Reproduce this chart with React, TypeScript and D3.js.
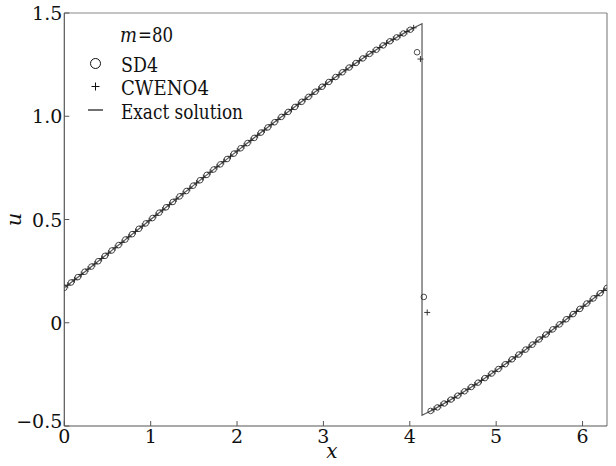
import React from "react";
import * as d3 from "d3";

const W = 616;
const H = 466;
const PLOT = { left: 64.3, right: 607, top: 13, bottom: 426 };

const xTicks = [0, 1, 2, 3, 4, 5, 6];
const xTickLabels = ["0", "1", "2", "3", "4", "5", "6"];
const yTicks = [-0.5, 0, 0.5, 1.0, 1.5];
const yTickLabels = ["\u22120.5", "0", "0.5", "1.0", "1.5"];

const cells = 80;

// SD4 values at x = i*h, i = 0..80
const sd4U = [
  0.169, 0.195, 0.221, 0.247, 0.272, 0.298, 0.324, 0.35, 0.376, 0.403,
  0.429, 0.455, 0.481, 0.507, 0.533, 0.559, 0.585, 0.612, 0.638, 0.664,
  0.69, 0.716, 0.742, 0.767, 0.793, 0.819, 0.845, 0.87, 0.895, 0.921,
  0.946, 0.971, 0.997, 1.021, 1.045, 1.07, 1.094, 1.119, 1.143, 1.166,
  1.19, 1.213, 1.236, 1.258, 1.28, 1.302, 1.322, 1.343, 1.363, 1.382,
  1.401, 1.419, 1.31, 0.125, -0.427, -0.41, -0.391, -0.372, -0.353, -0.332,
  -0.311, -0.29, -0.268, -0.246, -0.224, -0.201, -0.177, -0.154, -0.13, -0.106,
  -0.081, -0.057, -0.032, -0.008, 0.017, 0.042, 0.067, 0.093, 0.118, 0.143,
  0.169,
];

// CWENO4 values at x = (j+0.5)*h, j = 0..79
const cweno4U = [
  0.182, 0.208, 0.234, 0.26, 0.285, 0.311, 0.337, 0.363, 0.389, 0.416,
  0.442, 0.468, 0.494, 0.52, 0.546, 0.572, 0.599, 0.625, 0.651, 0.677,
  0.703, 0.729, 0.755, 0.78, 0.806, 0.832, 0.857, 0.883, 0.908, 0.933,
  0.959, 0.984, 1.009, 1.033, 1.058, 1.082, 1.106, 1.131, 1.155, 1.178,
  1.201, 1.225, 1.247, 1.269, 1.291, 1.312, 1.333, 1.354, 1.373, 1.392,
  1.41, 1.428, 1.277, 0.05, -0.419, -0.4, -0.382, -0.363, -0.342, -0.322,
  -0.301, -0.279, -0.257, -0.235, -0.212, -0.189, -0.166, -0.142, -0.118, -0.093,
  -0.069, -0.045, -0.02, 0.004, 0.029, 0.055, 0.08, 0.105, 0.131, 0.156,
];

// Exact solution (left branch, shock, right branch)
const exactX = [
  0, 0.25, 0.5, 1, 1.5, 2, 2.25, 2.5, 2.75, 3, 3.25, 3.5, 3.75, 4, 4.1, 4.1416,
  4.1416, 4.1832, 4.2832, 4.5332, 4.7832, 5.0332, 5.2832, 5.5332, 5.7832, 6.0332, 6.2832,
];
const exactU = [
  0.1689, 0.2509, 0.3336, 0.5, 0.6664, 0.8312, 0.9125, 0.9925, 1.0711, 1.1477, 1.2219,
  1.2925, 1.3587, 1.4182, 1.4395, 1.4477,
  -0.4477, -0.4395, -0.4182, -0.3587, -0.2925, -0.2219, -0.1477, -0.0711, 0.0075, 0.0875, 0.1688,
];

const FONT = "'DejaVu Serif', serif";

export default function App() {
  const x = d3.scaleLinear().domain([0, 2 * Math.PI]).range([PLOT.left, PLOT.right]);
  const y = d3.scaleLinear().domain([-0.5, 1.5]).range([PLOT.bottom, PLOT.top]);
  const h = (2 * Math.PI) / cells;

  const exactPts: [number, number][] = exactX.map((v, i) => [v, exactU[i]]);
  const line = d3
    .line<[number, number]>()
    .x((d) => x(d[0]))
    .y((d) => y(d[1]))(exactPts);

  const plus = (cx: number, cy: number, s: number) =>
    `M${cx - s},${cy}H${cx + s}M${cx},${cy - s}V${cy + s}`;

  const markColor = "#222";
  const frameDark = "#555";
  const frameLight = "#888";
  const txt = { fontFamily: FONT, fill: "#111" } as React.CSSProperties;

  return (
    <svg
      width={W}
      height={H}
      style={{ position: "absolute", left: 0, top: 0, background: "#fff", fontFamily: FONT }}
    >
      <defs>
        <clipPath id="plotClip">
          <rect
            x={PLOT.left}
            y={PLOT.top}
            width={PLOT.right - PLOT.left}
            height={PLOT.bottom - PLOT.top}
          />
        </clipPath>
      </defs>
      <rect x={0} y={0} width={W} height={H} fill="#fff" />

      {/* frame */}
      <line x1={PLOT.left} x2={PLOT.right} y1={PLOT.top} y2={PLOT.top} stroke={frameLight} strokeWidth={1.2} />
      <line x1={PLOT.right} x2={PLOT.right} y1={PLOT.top} y2={PLOT.bottom} stroke={frameLight} strokeWidth={1.2} />
      <line x1={PLOT.left} x2={PLOT.left} y1={PLOT.top} y2={PLOT.bottom} stroke={frameDark} strokeWidth={1.2} />
      <line x1={PLOT.left} x2={PLOT.right} y1={PLOT.bottom} y2={PLOT.bottom} stroke={frameDark} strokeWidth={1.2} />

      {/* ticks */}
      {xTicks.map((t, i) => (
        <g key={"xt" + i}>
          <line x1={x(t)} x2={x(t)} y1={PLOT.bottom} y2={PLOT.bottom - 5} stroke={frameDark} strokeWidth={1} />
          <text x={x(t)} y={PLOT.bottom + 17} fontSize={19} textAnchor="middle" style={txt}>
            {xTickLabels[i]}
          </text>
        </g>
      ))}
      {yTicks.map((t, i) => (
        <g key={"yt" + i}>
          <line x1={PLOT.left} x2={PLOT.left + 5} y1={y(t)} y2={y(t)} stroke={frameDark} strokeWidth={1} />
          <text x={PLOT.left - 2} y={y(t) + (t === -0.5 ? 1.5 : 7)} fontSize={19} textAnchor="end" style={txt}>
            {yTickLabels[i]}
          </text>
        </g>
      ))}

      {/* axis titles */}
      <text x={332} y={458} fontSize={20} fontStyle="italic" textAnchor="middle" style={txt}>
        x
      </text>
      <text
        transform={`translate(21,${(PLOT.top + PLOT.bottom) / 2}) rotate(-90)`}
        fontSize={21}
        fontStyle="italic"
        textAnchor="middle"
        style={txt}
      >
        u
      </text>

      <g clipPath="url(#plotClip)">
        <path d={line || ""} fill="none" stroke="#555" strokeWidth={1.2} />
        {sd4U.map((u, i) => (
          <circle key={"c" + i} cx={x(i * h)} cy={y(u)} r={2.8} fill="none" stroke={markColor} strokeWidth={0.8} />
        ))}
        {cweno4U.map((u, j) => (
          <path key={"p" + j} d={plus(x((j + 0.5) * h), y(u), 3)} stroke={markColor} strokeWidth={0.9} fill="none" />
        ))}
      </g>

      {/* legend */}
      <text x={120} y={42} fontSize={19.5} fontStyle="italic" style={txt} textLength={17} lengthAdjust="spacingAndGlyphs">
        m
      </text>
      <text x={138} y={42} fontSize={19.5} style={txt} textLength={35} lengthAdjust="spacingAndGlyphs">
        =80
      </text>
      <circle cx={95.5} cy={63.5} r={5} fill="none" stroke="#111" strokeWidth={1} />
      <text x={121} y={71.5} fontSize={19.5} style={txt} textLength={37} lengthAdjust="spacingAndGlyphs">SD4</text>
      <path d={plus(95.5, 86.5, 4)} stroke="#111" strokeWidth={1} />
      <text x={121} y={95} fontSize={19.5} style={txt} textLength={88} lengthAdjust="spacingAndGlyphs">CWENO4</text>
      <line x1={88} x2={103} y1={110} y2={110} stroke="#111" strokeWidth={1.2} />
      <text x={121} y={118.5} fontSize={19.5} style={txt} textLength={122} lengthAdjust="spacingAndGlyphs">Exact solution</text>
    </svg>
  );
}
